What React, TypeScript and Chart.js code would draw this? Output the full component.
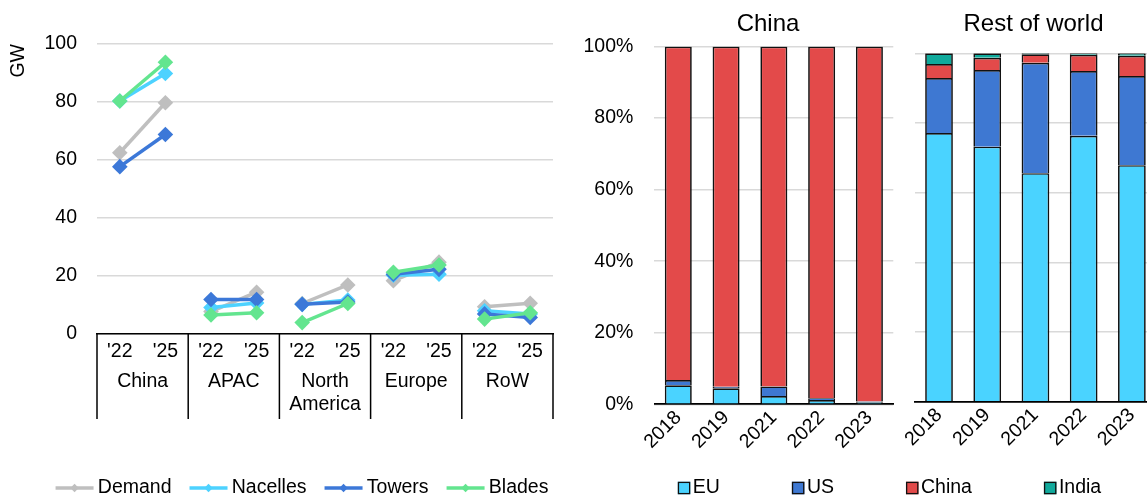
import React, { useEffect, useRef } from "react";
import { Chart, registerables } from "chart.js";

Chart.register(...registerables);

const FONT = "'Liberation Sans', Arial, Helvetica, sans-serif";

// ---------- Left chart: capacity by region (GW) ----------
const periodLabels = ["'22", "'25", "'22", "'25", "'22", "'25", "'22", "'25", "'22", "'25"];
const regionGroups: string[][] = [["China"], ["APAC"], ["North", "America"], ["Europe"], ["RoW"]];
const demand = [62.4, 79.7, 7.5, 14.2, 10.3, 16.7, 18.2, 24.6, 9.2, 10.4];
const nacelles = [80.3, 89.8, 8.9, 10.5, 10.0, 11.5, 20.1, 20.4, 7.8, 6.7];
const towers = [57.6, 68.7, 11.7, 11.7, 10.0, 10.8, 20.4, 22.1, 6.7, 5.5];
const blades = [80.3, 93.7, 6.3, 7.1, 3.7, 10.3, 21.1, 23.6, 4.9, 7.1];
const seriesNames = ["Demand", "Nacelles", "Towers", "Blades"];
const seriesColors = ["#BFBFBF", "#4DD2FF", "#3C78D8", "#63E58F"];
const gwAxisTitle = "GW";

// ---------- Right charts: share by origin (%) ----------
const years = ["2018", "2019", "2021", "2022", "2023"];
const originNames = ["EU", "US", "China", "India"];
const originColors = ["#4AD3FF", "#3E78D2", "#E34A4A", "#10AA9C"];
const chinaEU = [5.3, 4.5, 2.3, 1.2, 0.6];
const chinaUS = [1.5, 0.4, 2.7, 0.5, 0.2];
const chinaCN = [93.2, 95.1, 95.0, 98.3, 99.2];
const chinaIN = [0, 0, 0, 0, 0];
const rowEU = [77.1, 73.2, 65.6, 76.3, 67.9];
const rowUS = [15.8, 22.0, 31.7, 18.6, 25.6];
const rowCN = [4.0, 3.5, 2.4, 4.7, 5.8];
const rowIN = [3.1, 1.3, 0.3, 0.4, 0.7];
const chinaTitle = "China";
const rowTitle = "Rest of world";

const GRID = "#D9D9D9";
const FS = 19.5;

// place title / legend at chosen centres (canvas coords)
const placer = {
  id: "placer",
  afterLayout(chart: any, _a: any, opts: any) {
    const t = chart.titleBlock;
    if (t && opts.titleX != null) {
      t.left = opts.titleX - 200;
      t.right = opts.titleX + 200;
      t.width = 400;
      t.top = opts.titleY - 14.4;
      t.bottom = t.top + 28.8;
    }
    const lg = chart.legend;
    if (lg && opts.legendX != null) {
      const half = lg.width / 2;
      lg.left = opts.legendX - half;
      lg.right = opts.legendX + half;
      const pad = lg.options.labels.padding;
      lg.top = opts.legendY - pad - FS / 2;
      lg.bottom = lg.top + lg.height;
    }
  },
};

const legendMarkers = {
  id: "legendMarkers",
  afterDraw(chart: any, _a: any, opts: any) {
    const lg = chart.legend;
    if (!lg || !lg.legendHitBoxes) return;
    const ctx = chart.ctx;
    lg.legendHitBoxes.forEach((hb: any, i: number) => {
      const color = opts.colors[i];
      const cy = hb.top + hb.height / 2;
      ctx.save();
      if (opts.type === "line") {
        ctx.strokeStyle = color;
        ctx.lineWidth = 3.5;
        ctx.beginPath();
        ctx.moveTo(hb.left, cy);
        ctx.lineTo(hb.left + 38, cy);
        ctx.stroke();
        ctx.fillStyle = color;
        const cx = hb.left + 19;
        const r = 4.2;
        ctx.beginPath();
        ctx.moveTo(cx - r, cy);
        ctx.lineTo(cx, cy - r);
        ctx.lineTo(cx + r, cy);
        ctx.lineTo(cx, cy + r);
        ctx.closePath();
        ctx.fill();
      } else {
        ctx.fillStyle = color;
        ctx.fillRect(hb.left, cy - 6.25, 12.5, 12.5);
        ctx.strokeStyle = "#111";
        ctx.lineWidth = 1.3;
        ctx.strokeRect(hb.left + 0.65, cy - 5.6, 11.2, 11.2);
      }
      ctx.restore();
    });
  },
};

const groupAxis = {
  id: "groupAxis",
  afterDraw(chart: any, _a: any, opts: any) {
    const { ctx, chartArea } = chart;
    const x = chart.scales.x;
    const groups: string[][] = opts.groups;
    const n = groups.length;
    const bounds: number[] = [x.left];
    for (let i = 0; i < n - 1; i++) {
      bounds.push((x.getPixelForValue(2 * i + 1) + x.getPixelForValue(2 * i + 2)) / 2);
    }
    bounds.push(x.right);
    ctx.save();
    ctx.strokeStyle = "#000";
    ctx.lineWidth = 1.5;
    bounds.forEach((b) => {
      ctx.beginPath();
      ctx.moveTo(b, chartArea.bottom);
      ctx.lineTo(b, opts.bottom);
      ctx.stroke();
    });
    ctx.fillStyle = "#000";
    ctx.font = `${FS}px ${FONT}`;
    ctx.textAlign = "center";
    ctx.textBaseline = "middle";
    groups.forEach((g, i) => {
      const cx = (x.getPixelForValue(2 * i) + x.getPixelForValue(2 * i + 1)) / 2;
      g.forEach((line, j) => ctx.fillText(line, cx, opts.firstY + j * opts.lineGap));
    });
    ctx.restore();
  },
};

const blankLabels = (chart: any) =>
  chart.data.datasets.map((ds: any, i: number) => ({
    text: ds.label,
    fillStyle: "rgba(0,0,0,0)",
    strokeStyle: "rgba(0,0,0,0)",
    lineWidth: 0,
    hidden: false,
    datasetIndex: i,
    fontColor: "#000",
  }));

function leftConfig(): any {
  const data = [demand, nacelles, towers, blades];
  return {
    type: "line",
    data: {
      labels: periodLabels,
      datasets: seriesNames.map((name, i) => ({
        label: name,
        data: data[i],
        order: 4 - i,
        borderColor: seriesColors[i],
        backgroundColor: seriesColors[i],
        borderWidth: 3.5,
        pointStyle: "rectRot",
        pointRadius: 7.8,
        pointBackgroundColor: seriesColors[i],
        pointBorderColor: seriesColors[i],
        pointBorderWidth: 0,
        fill: false,
        tension: 0,
        segment: {
          borderColor: (c: any) => (c.p0DataIndex % 2 === 1 ? "rgba(0,0,0,0)" : seriesColors[i]),
        },
      })),
    },
    options: {
      responsive: false,
      animation: false,
      devicePixelRatio: 1,
      events: [],
      layout: { padding: { top: 44, right: 22, left: 0, bottom: 0 } },
      scales: {
        x: {
          type: "category",
          offset: true,
          grid: { display: false, drawTicks: false },
          border: { display: true, color: "#000", width: 1.5 },
          ticks: { padding: 6.7, autoSkip: false, maxRotation: 0, minRotation: 0, color: "#000", font: { size: FS } },
          afterFit: (s: any) => {
            s.height = 122.2;
          },
        },
        y: {
          min: 0,
          max: 100,
          ticks: { stepSize: 20, padding: 20, color: "#000", font: { size: FS } },
          grid: { color: GRID, lineWidth: 1.5, drawTicks: false },
          border: { display: false },
          title: { display: true, text: gwAxisTitle, align: "end", color: "#000", font: { size: FS }, padding: { top: 7.3, bottom: 0 } },
          afterFit: (s: any) => {
            s.width = 97;
          },
        },
      },
      plugins: {
        tooltip: { enabled: false },
        legend: {
          position: "bottom",
          labels: { boxWidth: 32.5, boxHeight: 4, padding: 18, color: "#000", font: { size: FS }, generateLabels: blankLabels },
        },
        placer: { legendX: 302, legendY: 488 },
        legendMarkers: { type: "line", colors: seriesColors },
        groupAxis: { groups: regionGroups, bottom: 419, firstY: 382, lineGap: 23 },
      },
    },
    plugins: [placer, legendMarkers, groupAxis],
  };
}

function barConfig(values: number[][], title: string, opts: any): any {
  return {
    type: "bar",
    data: {
      labels: years,
      datasets: originNames.map((name, i) => ({
        label: name,
        data: values[i],
        backgroundColor: originColors[i],
        borderColor: "#111",
        borderWidth: 1.7,
        barPercentage: opts.barPct,
        categoryPercentage: 1,
      })),
    },
    options: {
      responsive: false,
      animation: false,
      devicePixelRatio: 1,
      events: [],
      layout: { padding: opts.padding },
      scales: {
        x: {
          stacked: true,
          grid: { display: false, drawTicks: false },
          border: { display: true, color: "#000", width: 1.8 },
          ticks: { padding: 2, autoSkip: false, maxRotation: 45, minRotation: 45, color: "#000", font: { size: FS } },
          afterFit: (s: any) => {
            s.height = opts.xHeight;
          },
        },
        y: {
          stacked: true,
          min: 0,
          max: 100,
          ticks: {
            display: opts.showY,
            stepSize: 20,
            padding: 21,
            color: "#000",
            font: { size: FS },
            callback: (v: any) => `${v}%`,
          },
          grid: { color: GRID, lineWidth: 1.5, drawTicks: false },
          border: { display: false },
          afterFit: (s: any) => {
            s.width = opts.yWidth;
          },
        },
        ...(opts.rightWidth
          ? {
              yR: {
                position: "right",
                display: true,
                grid: { display: false, drawTicks: false },
                ticks: { display: false },
                border: { display: false },
                afterFit: (s: any) => {
                  s.width = opts.rightWidth;
                },
              },
            }
          : {}),
      },
      plugins: {
        tooltip: { enabled: false },
        title: { display: true, text: title, color: "#000", font: { size: 24, weight: "normal" }, padding: 0 },
        legend: opts.legend
          ? {
              position: "bottom",
              labels: { boxWidth: 5.25, boxHeight: 4, padding: 72, color: "#000", font: { size: FS }, generateLabels: blankLabels },
            }
          : { display: false },
        placer: opts.placer,
        legendMarkers: { type: "square", colors: originColors },
      },
    },
    plugins: [placer, legendMarkers],
  };
}

export default function App() {
  const leftRef = useRef<HTMLCanvasElement>(null);
  const chinaRef = useRef<HTMLCanvasElement>(null);
  const rowRef = useRef<HTMLCanvasElement>(null);

  useEffect(() => {
    Chart.defaults.font.family = FONT;
    Chart.defaults.font.size = FS;
    Chart.defaults.color = "#000";
    const charts = [
      new Chart(leftRef.current as HTMLCanvasElement, leftConfig()),
      new Chart(
        chinaRef.current as HTMLCanvasElement,
        barConfig([chinaEU, chinaUS, chinaCN, chinaIN], chinaTitle, {
          barPct: 0.565,
          padding: { top: 17.7, left: 0, right: 0, bottom: 0 },
          xHeight: 560 - 101.5 - 404.3,
          yWidth: 79.4,
          rightWidth: 281.7,
          showY: true,
          legend: true,
          placer: { titleX: 193, titleY: 24, legendX: 314.5, legendY: 488 },
        })
      ),
      new Chart(
        rowRef.current as HTMLCanvasElement,
        barConfig([rowEU, rowUS, rowCN, rowIN], rowTitle, {
          barPct: 0.575,
          padding: { top: 24.5, left: 19.9, right: 14, bottom: 0 },
          xHeight: 503 - 401.7,
          yWidth: 0,
          rightWidth: 0,
          showY: false,
          legend: false,
          placer: { titleX: 138.5, titleY: 24 },
        })
      ),
    ];
    return () => charts.forEach((c) => c.destroy());
  }, []);

  return (
    <div
      style={{
        position: "fixed",
        left: 0,
        top: 0,
        width: 1147,
        height: 503,
        overflow: "hidden",
        background: "#fff",
      }}
    >
      <canvas ref={leftRef} width={575} height={503} style={{ position: "absolute", left: 0, top: 0, width: 575, height: 503 }} />
      <canvas ref={chinaRef} width={600} height={560} style={{ position: "absolute", left: 575, top: 0, width: 600, height: 560 }} />
      <canvas ref={rowRef} width={275} height={503} style={{ position: "absolute", left: 895, top: 0, width: 275, height: 503 }} />
    </div>
  );
}
